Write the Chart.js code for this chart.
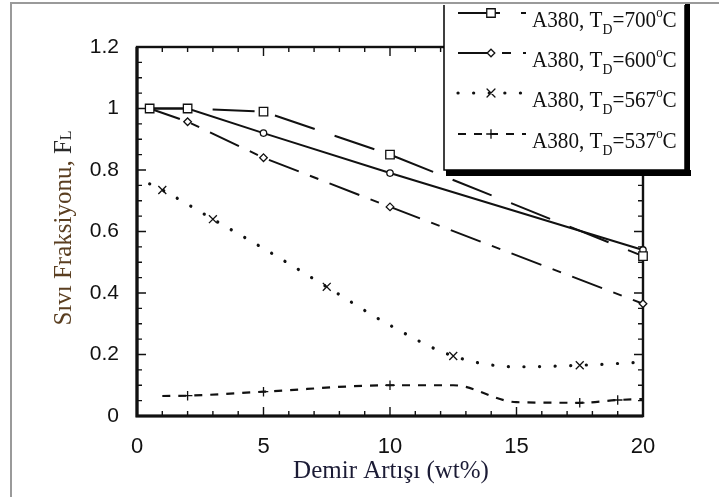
<!DOCTYPE html>
<html><head><meta charset="utf-8">
<script src="https://cdn.jsdelivr.net/npm/chart.js@4"></script>
<style>html,body{margin:0;padding:0;background:#fff;}#wrap{width:719px;height:497px;position:relative;}</style>
</head><body><div id="wrap"><canvas id="c" width="719" height="497"></canvas></div>
<script>
// ---- data ----
const xTickValues = [0, 5, 10, 15, 20];
const xTickLabels = ['0', '5', '10', '15', '20'];
const yTickValues = [0, 0.2, 0.4, 0.6, 0.8, 1.0, 1.2];
const yTickLabels = ['0', '0.2', '0.4', '0.6', '0.8', '1', '1.2'];

const x700 = [0.5, 2, 5, 10, 20];
const y700 = [1.0, 1.0, 0.99, 0.85, 0.52];
const m700 = [1, 1, 1, 1, 1];

const xSolid = [0.5, 2, 5, 10, 20];
const ySolid = [1.0, 1.0, 0.92, 0.79, 0.54];
const mSolid = [0, 0, 1, 1, 1];

const x600 = [0.5, 2, 5, 10, 20];
const y600 = [1.0, 0.957, 0.84, 0.68, 0.365];
const m600 = [0, 1, 1, 1, 1];

const x567 = [0.5, 1, 3, 5, 7.5, 10, 12.5, 15, 17.5, 20];
const y567 = [0.755, 0.735, 0.64, 0.545, 0.42, 0.295, 0.195, 0.16, 0.165, 0.175];
const m567 = [0, 1, 1, 0, 1, 0, 1, 0, 1, 0];

const x537 = [1, 2, 5, 10, 12.5, 15, 17.5, 19, 20];
const y537 = [0.065, 0.066, 0.079, 0.1, 0.1, 0.045, 0.043, 0.052, 0.055];
const m537 = [0, 1, 1, 1, 0, 0, 1, 1, 0];

const legendTemps = ['700', '600', '567', '537'];

// ---- build ----
function pts(xs, ys) { return xs.map((x, i) => ({ x: x, y: ys[i] })); }
function ds(label, xs, ys, marks, style, r, dash, opts) {
  return Object.assign({
    label: label,
    data: pts(xs, ys),
    borderColor: '#111',
    backgroundColor: '#fff',
    pointBackgroundColor: '#fff',
    pointBorderColor: '#111',
    pointBorderWidth: 1.3,
    borderWidth: 2,
    borderDash: dash,
    pointStyle: style,
    pointRadius: marks.map(m => m ? r : 0),
    pointHoverRadius: 0,
    tension: 0,
    clip: false,
    fill: false,
    showLine: true
  }, opts || {});
}

const datasets = [
  ds('A380, TD=700°C', x700, y700, m700, 'rect', 6, [42, 21]),
  ds('A380, TD=600°C', x600, y600, m600, 'rectRot', 3.8, [32, 12, 9, 12]),
  ds('A380, TD=567°C', x567, y567, m567, 'crossRot', 5.6, [0.1, 15.5], { borderWidth: 3.2, borderCapStyle: 'round', cubicInterpolationMode: 'monotone' }),
  ds('A380, TD=537°C', x537, y537, m537, 'cross', 4.8, [8, 8], { borderWidth: 2.2, cubicInterpolationMode: 'monotone' }),
  ds('A380', xSolid, ySolid, mSolid, 'circle', 3.2, [])
];

const deco = {
  id: 'deco',
  beforeDatasetsDraw(chart) {
    const ctx = chart.ctx, a = chart.chartArea;
    const xs = chart.scales.x, ys = chart.scales.y;
    ctx.save();
    ctx.strokeStyle = '#111';
    ctx.lineWidth = 1.4;
    ctx.beginPath();
    for (let v = 0; v <= 20; v++) {
      const px = xs.getPixelForValue(v);
      const len = v % 5 === 0 ? 9 : 5;
      ctx.moveTo(px, a.bottom); ctx.lineTo(px, a.bottom - len);
      ctx.moveTo(px, a.top); ctx.lineTo(px, a.top + len);
    }
    for (let k = 0; k <= 24; k++) {
      const py = ys.getPixelForValue(k * 0.05);
      const len = k % 4 === 0 ? 9 : 5;
      ctx.moveTo(a.left, py); ctx.lineTo(a.left + len, py);
      ctx.moveTo(a.right, py); ctx.lineTo(a.right - len, py);
    }
    ctx.stroke();
    ctx.lineWidth = 2.4;
    ctx.strokeRect(a.left, a.top, a.right - a.left, a.bottom - a.top);
    ctx.lineWidth = 3.2;
    ctx.beginPath();
    ctx.moveTo(a.left, a.top); ctx.lineTo(a.left, a.bottom); ctx.lineTo(a.right, a.bottom);
    ctx.stroke();
    ctx.restore();
  },
  afterDraw(chart) {
    const ctx = chart.ctx;
    ctx.save();
    // x title
    ctx.fillStyle = '#1b1b35';
    ctx.font = '25px "Liberation Serif"';
    ctx.textAlign = 'center';
    ctx.textBaseline = 'alphabetic';
    ctx.fillText('Demir Artışı (wt%)', 391, 478);
    // y title
    ctx.save();
    ctx.translate(63, 228);
    ctx.rotate(-Math.PI / 2);
    const mainT = 'Sıvı Fraksiyonu, F';
    ctx.font = '25px "Liberation Serif"';
    const w1 = ctx.measureText(mainT).width;
    const w0 = ctx.measureText('Sıvı Fraksiyonu, ').width;
    ctx.font = '16px "Liberation Serif"';
    const w2 = ctx.measureText('L').width;
    let sx = -(w1 + w2) / 2;
    ctx.textAlign = 'left';
    ctx.font = '25px "Liberation Serif"';
    ctx.fillStyle = '#5a3e20';
    ctx.fillText('Sıvı Fraksiyonu, ', sx, 8);
    ctx.fillStyle = '#2a2a2a';
    ctx.fillText('F', sx + w0, 8);
    ctx.font = '16px "Liberation Serif"';
    ctx.fillText('L', sx + w1, 8);
    ctx.restore();

    // outer gray frame
    ctx.strokeStyle = '#9a9a9a';
    ctx.lineWidth = 2;
    ctx.beginPath();
    ctx.moveTo(11, 497); ctx.lineTo(11, 3); ctx.lineTo(719, 3);
    ctx.stroke();

    // legend box
    const L = { x: 444, r: 685, b: 170 };
    ctx.fillStyle = '#fff';
    ctx.fillRect(L.x, 4, L.r - L.x, L.b - 4);
    ctx.fillStyle = '#000';
    ctx.fillRect(L.x + 2, L.b, L.r - L.x + 4, 6);
    ctx.fillRect(L.r, 4, 5, L.b + 2);
    ctx.strokeStyle = '#000';
    ctx.lineWidth = 1.5;
    ctx.beginPath();
    ctx.moveTo(L.x, 5); ctx.lineTo(L.x, L.b); ctx.lineTo(L.r, L.b); ctx.lineTo(L.r, 5);
    ctx.stroke();

    const bases = [27, 67, 107, 148];
    for (let i = 0; i < 4; i++) {
      const d = chart.data.datasets[i];
      const ly = bases[i] - 14;
      ctx.save();
      ctx.strokeStyle = '#111';
      ctx.lineWidth = d.borderWidth;
      ctx.lineCap = d.borderCapStyle || 'butt';
      ctx.setLineDash(d.borderDash);
      ctx.beginPath();
      ctx.moveTo(458, ly); ctx.lineTo(526, ly);
      ctx.stroke();
      ctx.setLineDash([]);
      ctx.lineWidth = 1.3;
      ctx.fillStyle = '#fff';
      const rr = Math.max.apply(null, d.pointRadius);
      Chart.helpers.drawPoint(ctx, { pointStyle: d.pointStyle, radius: rr, borderWidth: 1.3, rotation: 0 }, 491, ly);
      ctx.restore();

      ctx.save();
      ctx.translate(532, bases[i]);
      ctx.scale(0.92, 1);
      ctx.fillStyle = '#111';
      ctx.textAlign = 'left';
      ctx.textBaseline = 'alphabetic';
      let tx = 0;
      ctx.font = '23px "Liberation Serif"';
      ctx.fillText('A380, T', tx, 0); tx += ctx.measureText('A380, T').width;
      ctx.font = '15px "Liberation Serif"';
      ctx.fillText('D', tx, 7); tx += ctx.measureText('D').width;
      ctx.font = '23px "Liberation Serif"';
      const t2 = '=' + legendTemps[i];
      ctx.fillText(t2, tx, 0); tx += ctx.measureText(t2).width;
      ctx.font = '14px "Liberation Serif"';
      ctx.fillText('o', tx, -10); tx += ctx.measureText('o').width;
      ctx.font = '23px "Liberation Serif"';
      ctx.fillText('C', tx, 0);
      ctx.restore();
    }
    ctx.restore();
  }
};

new Chart(document.getElementById('c'), {
  type: 'scatter',
  data: { datasets: datasets },
  options: {
    responsive: false,
    animation: false,
    devicePixelRatio: 1,
    events: [],
    layout: { padding: { left: 0, top: 47, right: 76, bottom: 0 } },
    plugins: { legend: { display: false }, tooltip: { enabled: false } },
    scales: {
      x: {
        type: 'linear', min: 0, max: 20,
        border: { display: false },
        grid: { display: false, drawTicks: false },
        afterBuildTicks: s => { s.ticks = xTickValues.map(v => ({ value: v })); },
        afterFit: s => { s.height = 81; },
        ticks: {
          callback: v => xTickLabels[xTickValues.indexOf(v)],
          font: { family: 'Liberation Sans', size: 22 }, color: '#111',
          padding: 18, maxRotation: 0, autoSkip: false
        }
      },
      y: {
        type: 'linear', min: 0, max: 1.2,
        border: { display: false },
        grid: { display: false, drawTicks: false },
        afterBuildTicks: s => { s.ticks = yTickValues.map(v => ({ value: v })); },
        afterFit: s => { s.width = 137; },
        ticks: {
          callback: v => yTickLabels[yTickValues.findIndex(t => Math.abs(t - v) < 1e-9)],
          font: { family: 'Liberation Sans', size: 21 }, color: '#111',
          padding: 18, autoSkip: false
        }
      }
    }
  },
  plugins: [deco]
});
</script>
</body></html>
